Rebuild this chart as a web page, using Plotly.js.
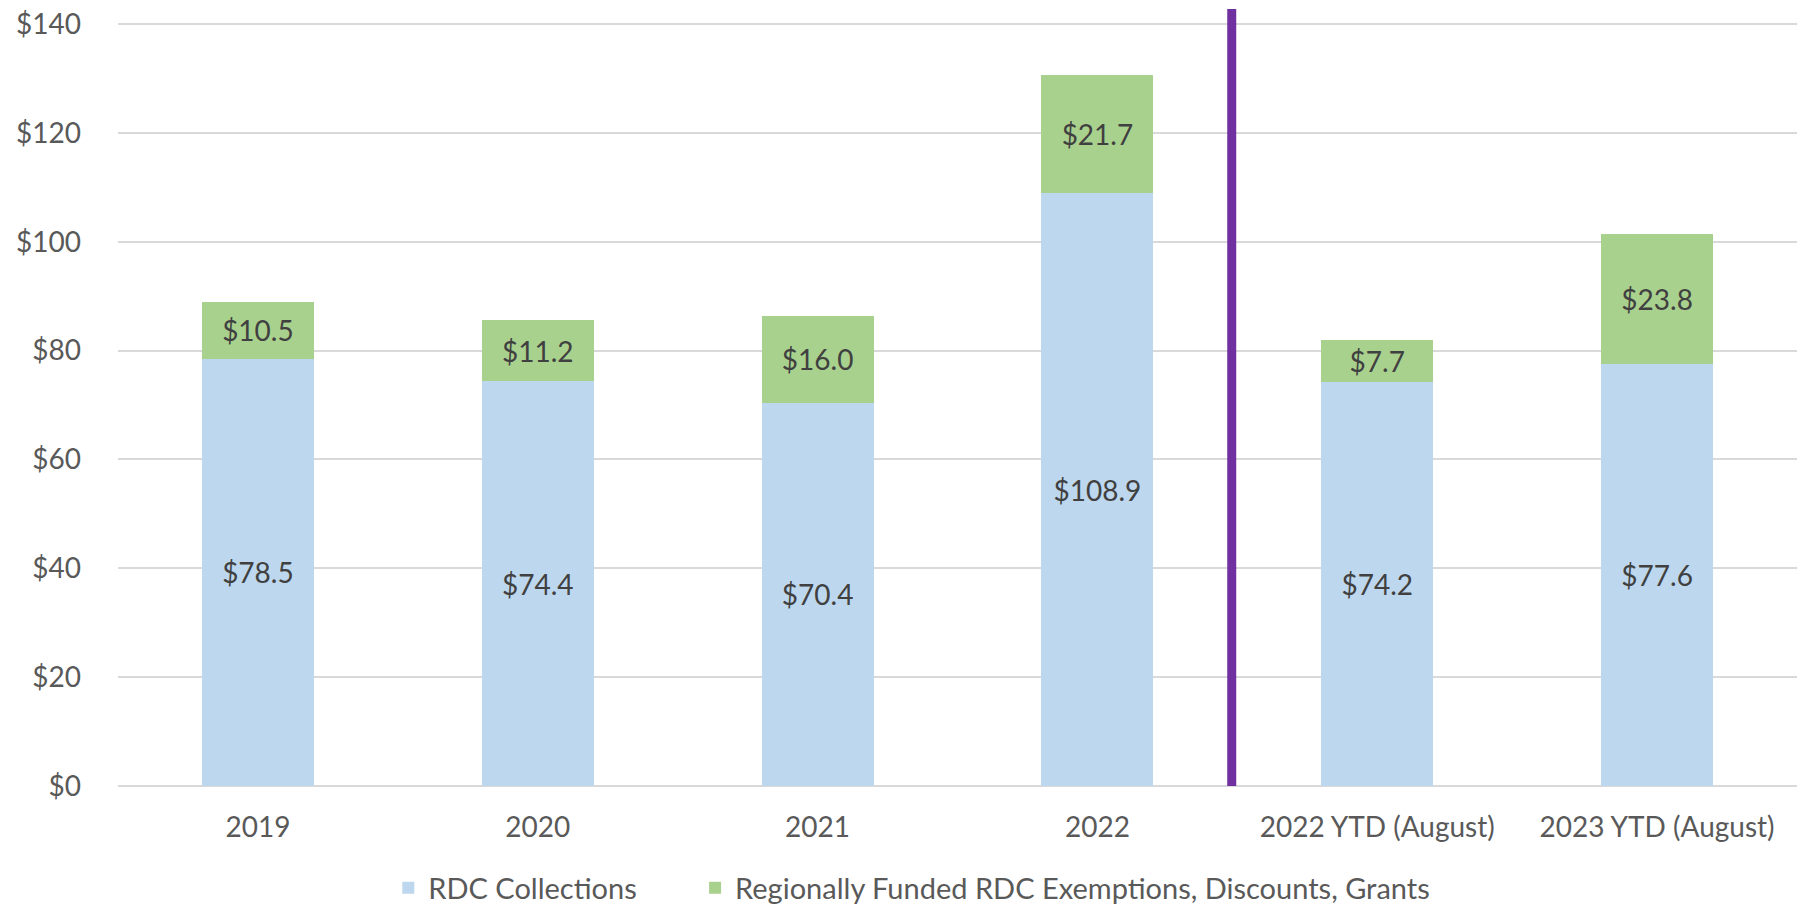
<!DOCTYPE html>
<html>
<head>
<meta charset="utf-8">
<script src="https://cdn.plot.ly/plotly-3.0.1.min.js"></script>
<style>
html,body{margin:0;padding:0;background:#fff;}
#chart{width:1797px;height:906px;}
</style>
</head>
<body>
<div id="chart"></div>
<script>
const categories = ["2019", "2020", "2021", "2022", "2022 YTD (August)", "2023 YTD (August)"];
const rdcCollections = [78.5, 74.4, 70.4, 108.9, 74.2, 77.6];
const regionallyFunded = [10.5, 11.2, 16.0, 21.7, 7.7, 23.8];
const seriesNames = ["RDC Collections", "Regionally Funded RDC Exemptions, Discounts, Grants"];
const yTicks = [0, 20, 40, 60, 80, 100, 120, 140];
const dividerPosition = 3.48;

const fontFamily = "Lato, 'Open Sans', sans-serif";
const fmt = v => "$" + v.toFixed(1);

const traces = [
  {
    type: "bar",
    name: seriesNames[0],
    legend: "legend",
    x: categories,
    y: rdcCollections,
    text: rdcCollections.map(fmt),
    textposition: "inside",
    insidetextanchor: "middle",
    constraintext: "none",
    textfont: {family: fontFamily, size: 28, color: "#404040"},
    marker: {color: "#BDD7EE"},
    width: 0.4,
    hoverinfo: "none"
  },
  {
    type: "bar",
    name: seriesNames[1],
    legend: "legend2",
    x: categories,
    y: regionallyFunded,
    text: regionallyFunded.map(fmt),
    textposition: "inside",
    insidetextanchor: "middle",
    constraintext: "none",
    textfont: {family: fontFamily, size: 28, color: "#404040"},
    marker: {color: "#A9D18E"},
    width: 0.4,
    hoverinfo: "none"
  }
];

const legendFont = {family: fontFamily, size: 29, color: "#595959"};

const layout = {
  width: 1797,
  height: 906,
  barmode: "stack",
  paper_bgcolor: "#ffffff",
  plot_bgcolor: "#ffffff",
  margin: {l: 118, r: 0, t: 9, b: 120, autoexpand: false},
  font: {family: fontFamily, size: 28, color: "#595959"},
  showlegend: true,
  legend: {
    orientation: "h",
    x: 0.161,
    xanchor: "left",
    y: -0.131,
    yanchor: "middle",
    font: legendFont
  },
  legend2: {
    orientation: "h",
    x: 0.3437,
    xanchor: "left",
    y: -0.131,
    yanchor: "middle",
    font: legendFont
  },
  xaxis: {
    type: "category",
    range: [-0.5, 5.5],
    showgrid: false,
    showline: false,
    zeroline: false,
    ticks: "",
    ticklabelstandoff: 22,
    tickfont: {family: fontFamily, size: 28, color: "#595959"}
  },
  yaxis: {
    range: [0, 142.76],
    tickvals: yTicks,
    ticktext: yTicks.map(v => "$" + v),
    showgrid: true,
    gridcolor: "#D9D9D9",
    gridwidth: 2,
    zeroline: true,
    zerolinecolor: "#D9D9D9",
    zerolinewidth: 2,
    showline: false,
    ticks: "",
    ticklabelstandoff: 36,
    tickfont: {family: fontFamily, size: 28, color: "#595959"}
  },
  shapes: [
    {
      type: "line",
      xref: "x",
      yref: "y",
      x0: dividerPosition,
      x1: dividerPosition,
      y0: 0,
      y1: 142.76,
      line: {color: "#7030A0", width: 9}
    }
  ]
};

Plotly.newPlot("chart", traces, layout, {displayModeBar: false, staticPlot: true});
</script>
</body>
</html>
